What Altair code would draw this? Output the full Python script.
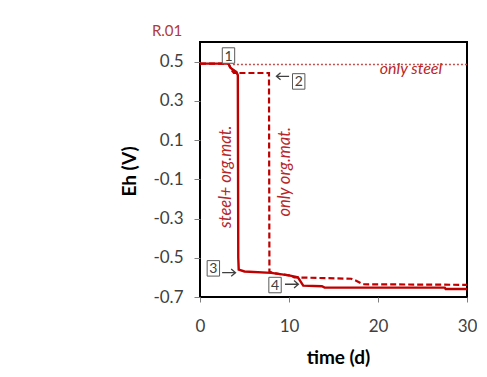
import altair as alt
import pandas as pd

# ---- data ----
solid_x = [0, 3.2, 3.4, 3.6, 4.1, 4.25, 4.3, 4.35, 5.0, 8.0, 10.0, 11.0, 11.6, 13.7, 14.0, 27.5, 27.6, 30]
solid_y = [0.49, 0.49, 0.47, 0.462, 0.447, 0.43, -0.50, -0.56, -0.57, -0.577, -0.59, -0.60, -0.642, -0.645, -0.652, -0.652, -0.659, -0.659]

dash_x = [0, 3.2, 3.5, 3.8, 7.75, 7.8, 8.5, 10.0, 10.6, 17.0, 17.6, 18.3, 30]
dash_y = [0.49, 0.49, 0.46, 0.442, 0.442, -0.571, -0.58, -0.59, -0.60, -0.607, -0.618, -0.635, -0.638]

dot_x = [3.7, 30]
dot_y = [0.485, 0.485]

y_ticks = [0.5, 0.3, 0.1, -0.1, -0.3, -0.5, -0.7]
x_ticks = [0, 10, 20, 30]

box_labels = ["1", "2", "3", "4"]
box_x = [3.2, 11.09, 1.5, 8.43]
box_y = [0.531, 0.399, -0.554, -0.639]

arrow_dir = ["left", "right", "right"]
arrow_x = [9.3, 3.24, 10.3]
arrow_y = [0.425, -0.576, -0.635]

red = "#c00000"
txt_red = "#b8262b"

solid = pd.DataFrame({"t": solid_x, "eh": solid_y})
dash = pd.DataFrame({"t": dash_x, "eh": dash_y})
dot = pd.DataFrame({"t": dot_x, "eh": dot_y})
boxes = pd.DataFrame({"t": box_x, "eh": box_y, "lab": box_labels})
arrows = pd.DataFrame({"t": arrow_x, "eh": arrow_y, "d": arrow_dir})

xs = alt.Scale(domain=[0, 30], nice=False)
ys = alt.Scale(domain=[-0.7, 0.6], nice=False)

X = alt.X("t:Q", scale=xs, axis=alt.Axis(
    values=x_ticks, title="time (d)", grid=False, domain=False, labelFlush=False,
    tickColor="#808080", tickSize=5, labelFontSize=17, labelColor="#404040",
    labelFont="Lato", labelPadding=16, titleFont="Lato", titleFontSize=19,
    titleFontWeight="bold", titleColor="black", titleX=138, titleY=60,
    titleBaseline="middle"))
Y = alt.Y("eh:Q", scale=ys, axis=alt.Axis(
    values=y_ticks, title="Eh (V)", grid=False, domain=False, labelFlush=False,
    tickColor="#808080", tickSize=6, labelFontSize=17, labelColor="#404040",
    labelFont="Lato", labelPadding=11,
    labelExpr="replace(format(datum.value, '.1f'), '\u2212', '-')",
    titleFont="Lato", titleFontSize=19, titleFontWeight="bold", titleColor="black",
    titleAngle=270, titleX=-71, titleY=129, titleAlign="center",
    titleBaseline="middle"))

x_plain = alt.X("t:Q", scale=xs)
y_plain = alt.Y("eh:Q", scale=ys)

dotted = alt.Chart(dot).mark_line(color="#c0504d", strokeWidth=1.6, strokeDash=[2, 2]).encode(x=X, y=Y)
dashed = alt.Chart(dash).mark_line(color=red, strokeWidth=2.2, strokeDash=[6, 3]).encode(x=x_plain, y=y_plain, order="t:Q")
solid_l = alt.Chart(solid).mark_line(color=red, strokeWidth=2.4).encode(x=x_plain, y=y_plain, order="t:Q")

box_shape = "M-0.8,-1L0.8,-1L0.8,1L-0.8,1Z"
box_marks = alt.Chart(boxes).mark_point(shape=box_shape, size=240, filled=True, fill="white",
                                        stroke="#595959", strokeWidth=1, opacity=1).encode(x=x_plain, y=y_plain)
box_text = alt.Chart(boxes).mark_text(font="Lato", fontSize=14, color="#404040", dy=1).encode(
    x=x_plain, y=y_plain, text="lab:N")

right_arrow = "M-1,0L1,0M0.35,-0.55L1,0L0.35,0.55"
left_arrow = "M1,0L-1,0M-0.35,-0.55L-1,0L-0.35,0.55"
arr_r = alt.Chart(arrows).transform_filter(alt.datum.d == "right").mark_point(
    shape=right_arrow, size=180, filled=False, stroke="#404040", strokeWidth=1.3, opacity=1).encode(x=x_plain, y=y_plain)
arr_l = alt.Chart(arrows).transform_filter(alt.datum.d == "left").mark_point(
    shape=left_arrow, size=160, filled=False, stroke="#404040", strokeWidth=1.3, opacity=1).encode(x=x_plain, y=y_plain)

ann_text = ["only steel", "R.01"]
ann_x = [23.7, -3.7]
ann_y = [0.462, 0.658]
ann = pd.DataFrame({"t": ann_x, "eh": ann_y, "s": ann_text})
ann1 = alt.Chart(ann.iloc[[0]]).mark_text(font="Lato", fontSize=16, fontStyle="italic", color=txt_red).encode(
    x=x_plain, y=y_plain, text="s:N")
ann2 = alt.Chart(ann.iloc[[1]]).mark_text(font="Lato", fontSize=15, color="#b03a3a").encode(
    x=x_plain, y=y_plain, text="s:N")

rot_text = ["steel+ org.mat.", "only org.mat."]
rot_x = [2.92, 9.55]
rot_y = [-0.087, -0.062]
rot = pd.DataFrame({"t": rot_x, "eh": rot_y, "s": rot_text})
rot_marks = alt.Chart(rot).mark_text(font="Lato", fontSize=16.5, fontStyle="italic", color=txt_red, angle=270).encode(
    x=x_plain, y=y_plain, text="s:N")

chart = alt.layer(dotted, dashed, solid_l, box_marks, box_text, arr_r, arr_l, ann1, ann2, rot_marks).properties(
    width=267, height=255,
    autosize=alt.AutoSizeParams(type="none"),
    padding={"left": 192, "top": 34, "right": 10, "bottom": 70},
    background="white",
).configure_view(stroke="black", strokeWidth=2)

chart.save("out.html", embed_options={"renderer": "svg", "actions": False})
